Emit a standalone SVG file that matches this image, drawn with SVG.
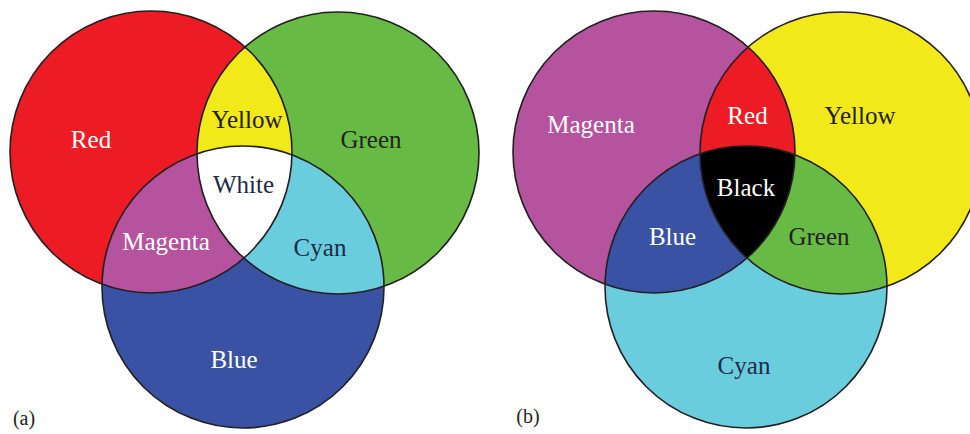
<svg xmlns="http://www.w3.org/2000/svg" width="970" height="434" viewBox="0 0 970 434">
<defs>
<style>
.lbl{font-family:"Liberation Serif","Times New Roman",serif;font-size:25px;text-anchor:middle}
.lt{fill:#ffffff}
.dk{fill:#231f20}
.ol{fill:none;stroke:#231f20;stroke-width:1.6}
.tag{font-family:"Liberation Serif","Times New Roman",serif;font-size:20px;fill:#231f20;text-anchor:middle}
</style>
<clipPath id="cR"><circle cx="151" cy="152" r="141"/></clipPath>
<clipPath id="cG"><circle cx="338" cy="153" r="141"/></clipPath>
<clipPath id="cB"><circle cx="243" cy="287" r="141"/></clipPath>
<clipPath id="cM"><circle cx="654" cy="152" r="141"/></clipPath>
<clipPath id="cY"><circle cx="841" cy="153" r="141"/></clipPath>
<clipPath id="cC"><circle cx="746" cy="287" r="141"/></clipPath>
</defs>
<rect width="970" height="434" fill="#ffffff"/>

<g id="panel-a">
<g id="a-red"><circle cx="151" cy="152" r="141" fill="#ed1c24"/><text class="lbl lt" x="91" y="148">Red</text></g>
<g id="a-green"><circle cx="338" cy="153" r="141" fill="#67bb45"/><text class="lbl dk" x="371" y="148">Green</text></g>
<g id="a-blue"><circle cx="243" cy="287" r="141" fill="#3a52a3"/><text class="lbl lt" x="234" y="368">Blue</text></g>
<g id="a-yellow"><g clip-path="url(#cR)"><circle cx="338" cy="153" r="141" fill="#f1e91a"/></g><text class="lbl dk" x="247" y="128">Yellow</text></g>
<g id="a-magenta"><g clip-path="url(#cR)"><circle cx="243" cy="287" r="141" fill="#b5539e"/></g><text class="lbl lt" x="166" y="250">Magenta</text></g>
<g id="a-cyan"><g clip-path="url(#cG)"><circle cx="243" cy="287" r="141" fill="#6acdde"/></g><text class="lbl" fill="#1e2a4a" x="320" y="256">Cyan</text></g>
<g id="a-white"><g clip-path="url(#cR)"><g clip-path="url(#cG)"><circle cx="243" cy="287" r="141" fill="#ffffff"/></g></g><text class="lbl" fill="#1e2a4a" x="243.5" y="193">White</text></g>
<g id="a-outlines">
<circle class="ol" cx="151" cy="152" r="141"/>
<circle class="ol" cx="338" cy="153" r="141"/>
<circle class="ol" cx="243" cy="287" r="141"/>
</g>
<text class="tag" x="24" y="425">(a)</text>
</g>

<g id="panel-b">
<g id="b-magenta"><circle cx="654" cy="152" r="141" fill="#b5539e"/><text class="lbl lt" x="591" y="133">Magenta</text></g>
<g id="b-yellow"><circle cx="841" cy="153" r="141" fill="#f1e91a"/><text class="lbl dk" x="860" y="124">Yellow</text></g>
<g id="b-cyan"><circle cx="746" cy="287" r="141" fill="#6acdde"/><text class="lbl" fill="#1e2a4a" x="744" y="374">Cyan</text></g>
<g id="b-red"><g clip-path="url(#cM)"><circle cx="841" cy="153" r="141" fill="#ed1c24"/></g><text class="lbl lt" x="747.5" y="124">Red</text></g>
<g id="b-blue"><g clip-path="url(#cM)"><circle cx="746" cy="287" r="141" fill="#3a52a3"/></g><text class="lbl lt" x="672.5" y="245">Blue</text></g>
<g id="b-green"><g clip-path="url(#cY)"><circle cx="746" cy="287" r="141" fill="#67bb45"/></g><text class="lbl dk" x="819" y="245">Green</text></g>
<g id="b-black"><g clip-path="url(#cM)"><g clip-path="url(#cY)"><circle cx="746" cy="287" r="141" fill="#000000"/></g></g><text class="lbl lt" x="746" y="196">Black</text></g>
<g id="b-outlines">
<circle class="ol" cx="654" cy="152" r="141"/>
<circle class="ol" cx="841" cy="153" r="141"/>
<circle class="ol" cx="746" cy="287" r="141"/>
</g>
<text class="tag" x="528" y="423">(b)</text>
</g>
</svg>
